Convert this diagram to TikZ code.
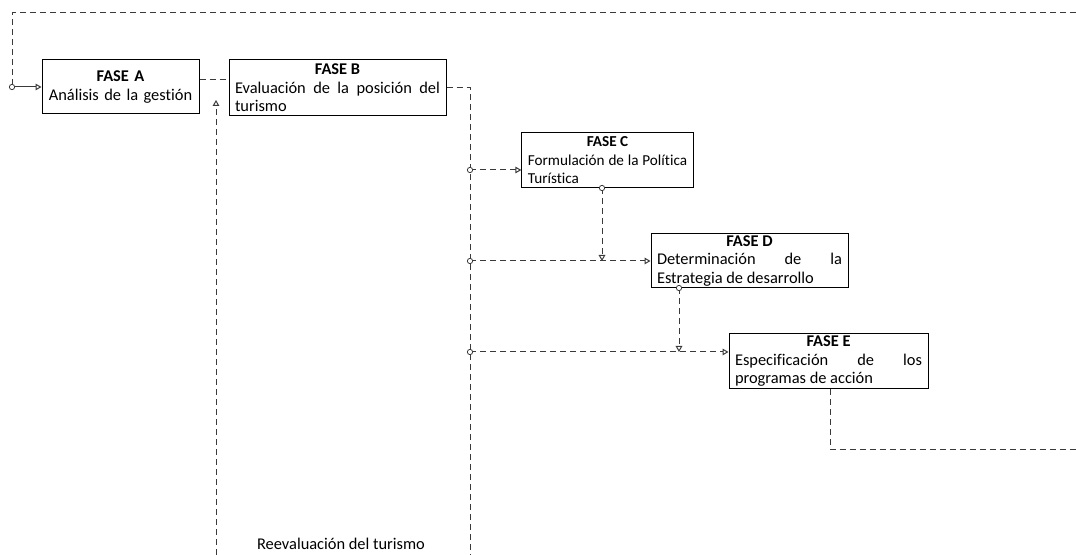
\documentclass[tikz,border=0pt]{standalone}
\usepackage{fontspec}
\setmainfont{Carlito}[Ligatures=NoCommon]
\usetikzlibrary{arrows.meta}
\definecolor{lnc}{HTML}{3A3A3A}
\newcommand{\fasehead}[1]{\hfill\textbf{#1}\hfill\null\par}
\tikzset{
  fase/.style={draw=black, line width=0.75pt, inner xsep=4.5pt, inner ysep=0pt, align=justify,
     font=\fontsize{12.3pt}{13.9pt}\selectfont},
  small/.style={font=\fontsize{11.4pt}{13.9pt}\selectfont},
  dsh/.style={draw=lnc, line width=0.75pt, dash pattern=on 4.5pt off 3pt},
  opentip/.style={-{Triangle[open,length=4.5pt,width=5pt]}},
  dotc/.style={circle, draw=lnc, fill=white, line width=0.6pt, inner sep=0pt, minimum size=4pt},
  lbl/.style={font=\fontsize{12.3pt}{13.9pt}\selectfont, inner sep=0pt}
}
\begin{document}
\begin{tikzpicture}[x=0.75pt,y=-0.75pt]
\useasboundingbox (0,0) rectangle (1076,555);
% boxes
\node[fase, align=center, text width=108.75pt, minimum height=40.5pt] (A) at (120.5,87)
  {\textbf{FASE A}\\Análisis de la gestión};
\node[fase, text width=153.75pt, minimum height=42pt] (B) at (337.5,88)
  {\fasehead{FASE B}Evaluación de la posición del\linebreak turismo};
\node[fase, small, text width=119.5pt, minimum height=41.25pt] (C) at (607.5,160.5)
  {\fasehead{FASE C}Formulación de la Política\linebreak Turística};
\node[fase, text width=138.75pt, minimum height=40.5pt] (D) at (749.5,261)
  {\fasehead{FASE D}Determinación de la\linebreak Estrategia de desarrollo};
\node[fase, text width=140.25pt, minimum height=41.25pt] (E) at (828.5,361.5)
  {\fasehead{FASE E}Especificación de los\linebreak programas de acción};
\node[lbl] (R) at (341,544) {Reevaluación del turismo};
% coordinates
\coordinate (rtop) at (1076,13);
\coordinate (lp) at (12,87);
\coordinate (rbot) at (1076,450);
\coordinate (upb) at (216,555);
\coordinate (upt) at (216,100);
\coordinate (busb) at (470,555);
\coordinate (b1) at (470,170);
\coordinate (b2) at (470,261);
\coordinate (b3) at (470,352);
\coordinate (cb) at (602,188);
\coordinate (db) at (679,288);
\coordinate (eb) at (830,389);
% top feedback loop
\draw[dsh] (rtop) -| (lp);
\draw[draw=lnc, line width=0.75pt, opentip] (lp) -- (A.west);
\node[dotc] at (lp) {};
% A to B
\draw[dsh] (A.east |- 0,80) -- (B.west |- 0,80);
% reevaluation up arrow
\draw[dsh, opentip] (upb) -- (upt);
% B bus
\draw[dsh] (B.east) -| (busb);
\draw[dsh, opentip] (b1) -- (C.west |- b1);
\draw[dsh, opentip] (b2) -- (D.west);
\draw[dsh, opentip] (b3) -- (E.west |- b3);
\draw[dsh, opentip] (cb) -- (cb |- b2);
\draw[dsh, opentip] (db) -- (db |- b3);
\node[dotc] at (b1) {};
\node[dotc] at (b2) {};
\node[dotc] at (b3) {};
\node[dotc] at (cb) {};
\node[dotc] at (db) {};
% E to right
\draw[dsh] (E.south -| eb) |- (rbot);
\end{tikzpicture}
\end{document}
